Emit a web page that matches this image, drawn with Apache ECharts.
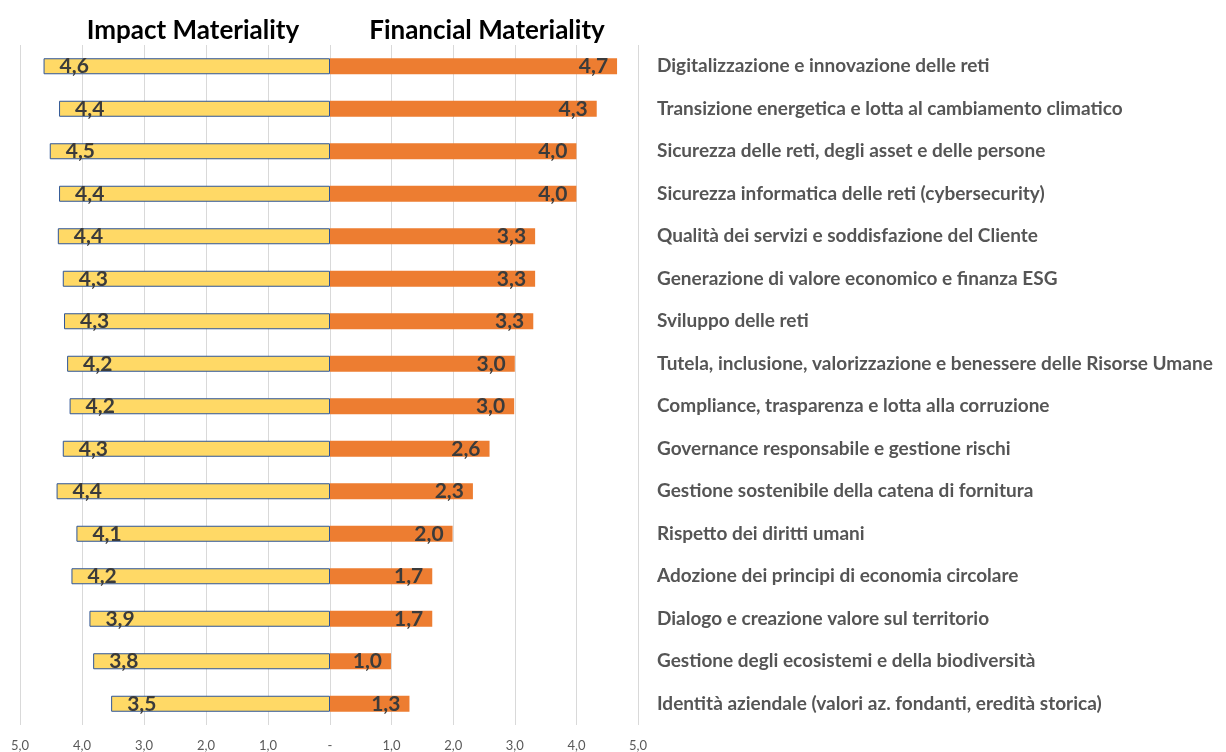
<!DOCTYPE html>
<html>
<head>
<meta charset="utf-8">
<title>Impact vs Financial Materiality</title>
<script src="https://cdn.jsdelivr.net/npm/echarts@6/dist/echarts.min.js"></script>
<style>
    html, body { margin: 0; padding: 0; background: #fff; }
    #chart { width: 1226px; height: 752px; }
</style>
</head>
<body>
<div id="chart"></div>
<script>
// temi materiali (dall'alto verso il basso)
var topics = [
    'Digitalizzazione e innovazione delle reti',
    'Transizione energetica e lotta al cambiamento climatico',
    'Sicurezza delle reti, degli asset e delle persone',
    'Sicurezza informatica delle reti (cybersecurity)',
    'Qualità dei servizi e soddisfazione del Cliente',
    'Generazione di valore economico e finanza ESG',
    'Sviluppo delle reti',
    'Tutela, inclusione, valorizzazione e benessere delle Risorse Umane',
    'Compliance, trasparenza e lotta alla corruzione',
    'Governance responsabile e gestione rischi',
    'Gestione sostenibile della catena di fornitura',
    'Rispetto dei diritti umani',
    'Adozione dei principi di economia circolare',
    'Dialogo e creazione valore sul territorio',
    'Gestione degli ecosistemi e della biodiversità',
    'Identità aziendale (valori az. fondanti, eredità storica)'
];
var impactScores = [4.62, 4.37, 4.52, 4.37, 4.39, 4.31, 4.29, 4.24, 4.20, 4.31, 4.41, 4.09, 4.17, 3.88, 3.82, 3.53];
var financialScores = [4.66, 4.33, 4.00, 4.00, 3.33, 3.33, 3.30, 3.00, 2.99, 2.59, 2.32, 1.99, 1.66, 1.66, 0.99, 1.29];
var titles = ['Impact Materiality', 'Financial Materiality'];

var FONT = 'Lato';
// formato italiano con virgola
function fmt(v) {
    return v.toFixed(1).replace('.', ',');
}

var chart = echarts.init(document.getElementById('chart'));

var axisLabelStyle = {
    color: '#595959',
    fontFamily: FONT,
    fontSize: 13,
    margin: 14,
    showMinLabel: true,
    showMaxLabel: true
};

chart.setOption({
    backgroundColor: '#fff',
    animation: false,
    title: [
        {
            text: titles[0], left: 188, top: 13, textAlign: 'center',
            textStyle: { fontFamily: FONT, fontWeight: 'bold', fontSize: 26, color: '#000' }
        },
        {
            text: titles[1], left: 482, top: 13, textAlign: 'center',
            textStyle: { fontFamily: FONT, fontWeight: 'bold', fontSize: 26, color: '#000' }
        }
    ],
    grid: [
        { left: 20, right: 896, top: 45, bottom: 27 },
        { left: 330, right: 588, top: 45, bottom: 27 }
    ],
    xAxis: [
        {
            type: 'value', gridIndex: 0, inverse: true, min: 0, max: 5, interval: 1,
            axisLine: { show: false }, axisTick: { show: false },
            splitLine: { lineStyle: { color: '#d9d9d9', width: 1 } },
            axisLabel: Object.assign({}, axisLabelStyle, {
                formatter: function (v) { return v === 0 ? '-' : fmt(v); }
            })
        },
        {
            type: 'value', gridIndex: 1, min: 0, max: 5, interval: 1,
            axisLine: { show: false }, axisTick: { show: false },
            splitLine: { lineStyle: { color: '#d9d9d9', width: 1 } },
            axisLabel: Object.assign({}, axisLabelStyle, {
                formatter: function (v) { return v === 0 ? '' : fmt(v); }
            })
        }
    ],
    yAxis: [
        {
            type: 'category', gridIndex: 0, inverse: true, data: topics,
            axisLine: { show: false }, axisTick: { show: false }, axisLabel: { show: false }
        },
        {
            type: 'category', gridIndex: 1, inverse: true, data: topics, position: 'right',
            axisLine: { show: false }, axisTick: { show: false },
            axisLabel: {
                align: 'left', margin: 19,
                color: '#555555', fontFamily: FONT, fontWeight: 'bold', fontSize: 19
            }
        }
    ],
    series: [
        {
            name: titles[0], type: 'bar', xAxisIndex: 0, yAxisIndex: 0,
            data: impactScores, barWidth: 16,
            itemStyle: { color: '#FFD966', borderColor: '#2F5597', borderWidth: 1 },
            label: {
                show: true, position: 'insideLeft', distance: 16,
                formatter: function (p) { return fmt(p.value); },
                color: '#3B3B3B', fontFamily: FONT, fontWeight: 'bold', fontSize: 21
            }
        },
        {
            name: titles[1], type: 'bar', xAxisIndex: 1, yAxisIndex: 1,
            data: financialScores, barWidth: 16,
            itemStyle: { color: '#ED7D31' },
            label: {
                show: true, position: 'insideRight', distance: 9,
                formatter: function (p) { return fmt(p.value); },
                color: '#3B3B3B', fontFamily: FONT, fontWeight: 'bold', fontSize: 21
            }
        }
    ]
});
</script>
</body>
</html>
